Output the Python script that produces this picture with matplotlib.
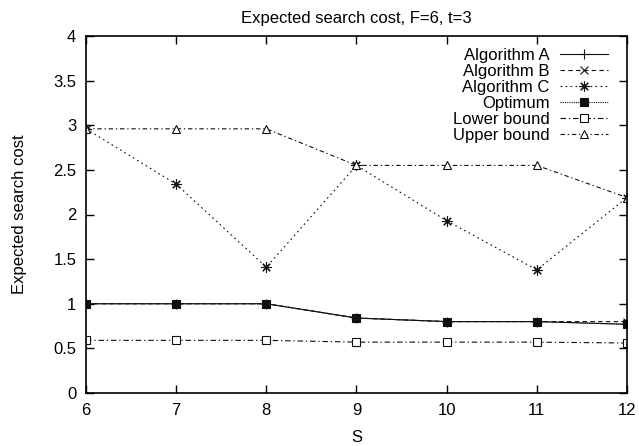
import matplotlib
matplotlib.use("Agg")
import matplotlib.pyplot as plt

S = [6, 7, 8, 9, 10, 11, 12]
alg_a = [1.0, 1.0, 1.0, 0.84, 0.80, 0.80, 0.77]
alg_b = [1.0, 1.0, 1.0, 0.84, 0.80, 0.80, 0.80]
alg_c = [2.96, 2.34, 1.41, 2.55, 1.93, 1.38, 2.19]
optimum = [1.0, 1.0, 1.0, 0.84, 0.80, 0.80, 0.77]
lower = [0.59, 0.59, 0.59, 0.57, 0.57, 0.57, 0.56]
upper = [2.96, 2.96, 2.96, 2.55, 2.55, 2.55, 2.19]

plt.rcParams['font.family'] = ['Liberation Sans', 'DejaVu Sans']
plt.rcParams['font.size'] = 12

fig = plt.figure(figsize=(6.39, 4.46), dpi=100)
ax = fig.add_axes([86/639, 1-393/446, (627-86)/639, (393-36)/446])

lw = 0.8
col = '#111111'
ax.plot(S, alg_a, color=col, lw=lw, ls='-', marker='+', ms=7, mew=0.8, label='Algorithm A')
ax.plot(S, alg_b, color=col, lw=lw, ls=(0, (4, 3)), marker='x', ms=5.5, mew=0.8, label='Algorithm B')
ax.plot(S, alg_c, color=col, lw=lw, ls=(0, (1.5, 3)), marker=(8, 2, 0), ms=7.5, mew=0.8, label='Algorithm C')
ax.plot(S, optimum, color=col, lw=lw, ls=(0, (1, 1)), marker='s', ms=6, mfc=col, mew=0.8, label='Optimum')
ax.plot(S, lower, color=col, lw=lw, ls=(0, (5, 2.5, 1.2, 2.5)), marker='s', ms=5.5, mfc='white', mew=0.8, label='Lower bound')
ax.plot(S, upper, color=col, lw=lw, ls=(0, (4, 2.5, 1.2, 2.5)), marker='^', ms=6, mfc='white', mew=0.8, label='Upper bound')

ax.set_xlim(6, 12)
ax.set_ylim(0, 4)
ax.set_xticks(S)
ax.set_yticks([0, 0.5, 1, 1.5, 2, 2.5, 3, 3.5, 4])
ax.set_yticklabels(['0', '0.5', '1', '1.5', '2', '2.5', '3', '3.5', '4'])
ax.tick_params(direction='in', length=6, width=1, top=True, right=True, pad=7, labelsize=12)
for sp in ax.spines.values():
    sp.set_linewidth(1.2)

ax.set_title('Expected search cost, F=6, t=3', fontsize=12, pad=9)
ax.set_xlabel('S', fontsize=12, labelpad=9)
ax.set_ylabel('Expected search cost', fontsize=12, labelpad=19)

leg = ax.legend(loc='upper right', bbox_to_anchor=(608/639, 1-48/446),
                bbox_transform=fig.transFigure, frameon=False, markerfirst=False,
                borderpad=0, borderaxespad=0, handlelength=2.9, handletextpad=0.6,
                labelspacing=0.06, fontsize=12)

fig.savefig('out.png', dpi=100)
